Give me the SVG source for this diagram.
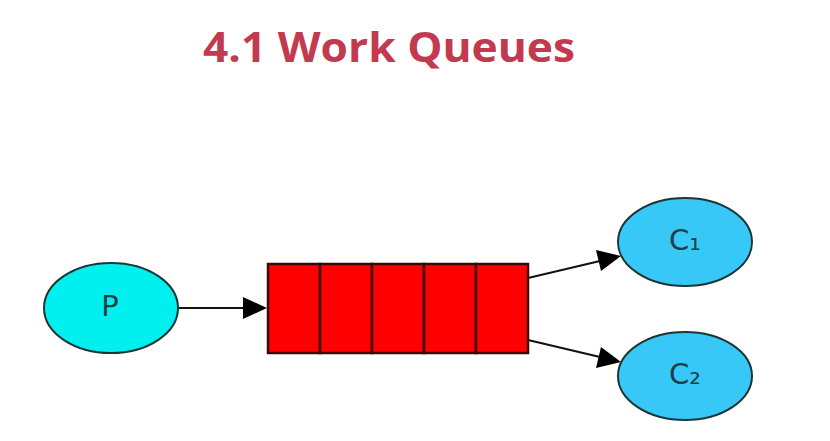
<svg xmlns="http://www.w3.org/2000/svg" width="830" height="441" viewBox="0 0 830 441">
<style>
.title{font-family:"Open Sans","Liberation Sans",sans-serif;font-weight:bold;font-size:42px;fill:#c3394f}
.lbl{font-family:"DejaVu Sans","Liberation Sans",sans-serif;font-size:29px;fill:#1c3f46;text-anchor:middle;dominant-baseline:central}
.node{stroke:#1e3535;stroke-width:2}
.cell{fill:#ff0000;stroke:#3a0808;stroke-width:2.5}
.edge{stroke:#111;stroke-width:2;fill:none}
.head{fill:#000}
</style>
<rect width="830" height="441" fill="#fff"/>
<text class="title" x="389" y="62" text-anchor="middle" textLength="372" lengthAdjust="spacingAndGlyphs">4.1 Work Queues</text>
<g id="edges">
<path class="edge" d="M179,308 L246,308"/>
<path class="head" d="M243,297 L267,308 L243,319 z"/>
<path class="edge" d="M528,278 L600,261"/>
<path class="head" d="M596,250 L621,256 L601,271 z"/>
<path class="edge" d="M528,340 L600,357"/>
<path class="head" d="M601,347 L621,362 L596,368 z"/>
</g>
<g id="P">
<ellipse class="node" cx="111" cy="308" rx="67" ry="45" fill="#00f0f0"/>
<text class="lbl" x="110" y="306">P</text>
</g>
<g id="queue">
<rect class="cell" x="268" y="264" width="52" height="89"/>
<rect class="cell" x="320" y="264" width="52" height="89"/>
<rect class="cell" x="372" y="264" width="52" height="89"/>
<rect class="cell" x="424" y="264" width="52" height="89"/>
<rect class="cell" x="476" y="264" width="52" height="89"/>
</g>
<g id="C1">
<ellipse class="node" cx="685" cy="242" rx="67" ry="44" fill="#38c8f8"/>
<text class="lbl" x="685" y="240">C₁</text>
</g>
<g id="C2">
<ellipse class="node" cx="685" cy="376" rx="67" ry="44" fill="#38c8f8"/>
<text class="lbl" x="685" y="374">C₂</text>
</g>
</svg>
